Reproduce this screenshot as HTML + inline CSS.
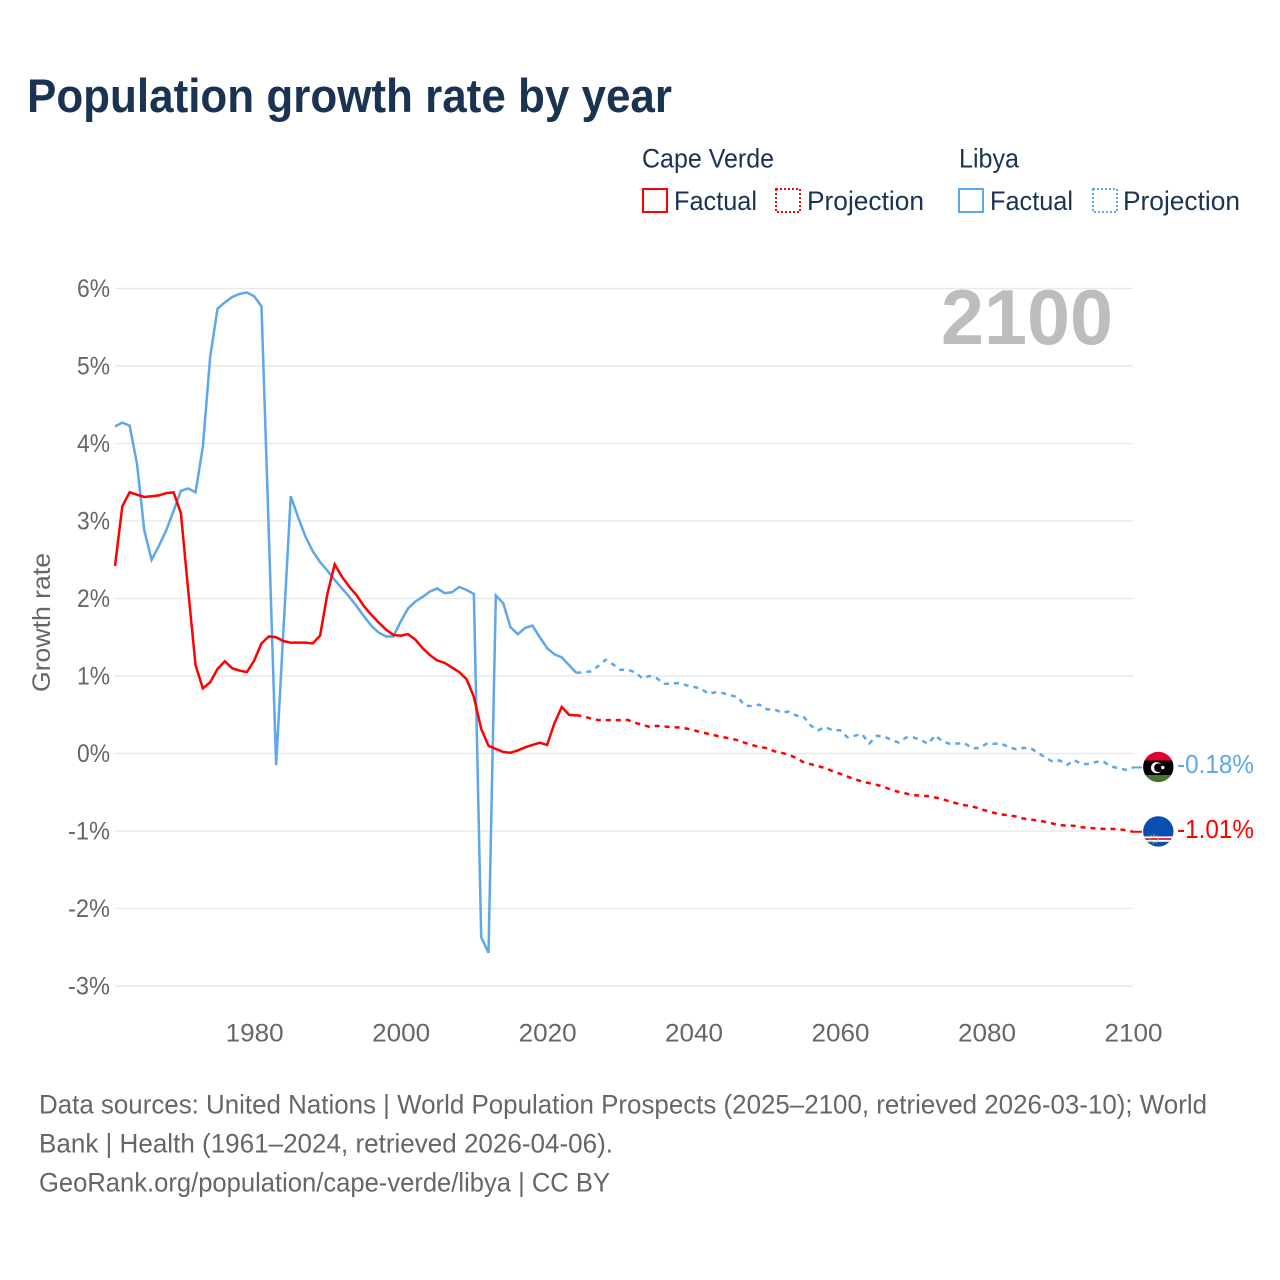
<!DOCTYPE html>
<html lang="en">
<head>
<meta charset="utf-8">
<title>Population growth rate by year</title>
<style>
html,body{margin:0;padding:0;background:#fff;}
svg{display:block;font-family:"Liberation Sans",sans-serif;}
</style>
</head>
<body>
<svg id="chart" xmlns="http://www.w3.org/2000/svg" width="1280" height="1280" viewBox="0 0 1280 1280">
  <rect x="0" y="0" width="1280" height="1280" fill="#ffffff"/>
  <text x="27" y="112" font-size="47" font-weight="700" fill="#1a3352" textLength="645" lengthAdjust="spacingAndGlyphs">Population growth rate by year</text>

  <g fill="#1a3352" font-size="26.5">
    <text x="642" y="167.5" textLength="132" lengthAdjust="spacingAndGlyphs">Cape Verde</text>
    <text x="959" y="167.5" textLength="60" lengthAdjust="spacingAndGlyphs">Libya</text>
    <rect x="643" y="189" width="24" height="23" fill="none" stroke="#ff0000" stroke-width="2"/>
    <text x="674" y="210" textLength="83" lengthAdjust="spacingAndGlyphs">Factual</text>
    <rect x="776" y="189" width="24" height="23" fill="none" stroke="#ff0000" stroke-width="2" stroke-dasharray="2,2"/>
    <text x="807" y="210" textLength="117" lengthAdjust="spacingAndGlyphs">Projection</text>
    <rect x="959" y="189" width="24" height="23" fill="none" stroke="#5da7ec" stroke-width="2"/>
    <text x="990" y="210" textLength="83" lengthAdjust="spacingAndGlyphs">Factual</text>
    <rect x="1093" y="189" width="24" height="23" fill="none" stroke="#5da7ec" stroke-width="2" stroke-dasharray="2,2"/>
    <text x="1123" y="210" textLength="117" lengthAdjust="spacingAndGlyphs">Projection</text>
  </g>

  <g id="grid"></g>
  <g id="y-ticks"></g>
  <g id="x-ticks"></g>

  <text x="941" y="344" font-size="78" font-weight="700" fill="#bdbdbd" textLength="172" lengthAdjust="spacingAndGlyphs">2100</text>
  <text transform="translate(50,692) rotate(-90)" font-size="25" fill="#666666" textLength="139" lengthAdjust="spacingAndGlyphs">Growth rate</text>

  <g id="series"></g>

  <g>
    <defs>
      <clipPath id="clip-libya"><circle cx="1158.3" cy="767" r="15.2"/></clipPath>
      <clipPath id="clip-cv"><circle cx="1158.3" cy="831.4" r="15.2"/></clipPath>
    </defs>
    <g clip-path="url(#clip-libya)">
      <rect x="1143" y="751" width="31" height="10" fill="#e0002d"/>
      <rect x="1143" y="760.5" width="31" height="14.5" fill="#000000"/>
      <rect x="1143" y="775" width="31" height="8" fill="#4b7430"/>
      <circle cx="1156.6" cy="767.7" r="5.6" fill="#ffffff"/>
      <circle cx="1158.4" cy="767.7" r="4.3" fill="#000000"/>
      <circle cx="1162.8" cy="767.5" r="1.7" fill="#ffffff"/>
    </g>
  </g>
  <g>
    <g clip-path="url(#clip-cv)">
      <rect x="1143" y="816" width="31" height="31" fill="#0a4fb0"/>
      <rect x="1143" y="836.4" width="31" height="5.4" fill="#ffffff"/>
      <rect x="1143" y="838" width="31" height="2" fill="#e8323c"/>
      <circle cx="1154" cy="839" r="4" fill="none" stroke="#a9a37a" stroke-width="1.4" stroke-dasharray="1.5,1.5"/>
    </g>
  </g>

  <text id="end-label-libya" x="1177" y="773" font-size="26" fill="#5da7ec" textLength="77" lengthAdjust="spacingAndGlyphs">-0.18%</text>
  <text id="end-label-cv" x="1177" y="838" font-size="26" fill="#ff0000" textLength="77" lengthAdjust="spacingAndGlyphs">-1.01%</text>

  <g font-size="26.5" fill="#666666">
    <text x="39" y="1113.5" textLength="1168" lengthAdjust="spacingAndGlyphs">Data sources: United Nations | World Population Prospects (2025–2100, retrieved 2026-03-10); World</text>
    <text x="39" y="1152.5" textLength="574" lengthAdjust="spacingAndGlyphs">Bank | Health (1961–2024, retrieved 2026-04-06).</text>
    <text x="39" y="1191.5" textLength="571" lengthAdjust="spacingAndGlyphs">GeoRank.org/population/cape-verde/libya | CC BY</text>
  </g>
</svg>
<script>
const startYear = 1961;
const lastFactualYear = 2024;
const endYear = 2100;
const yTicks = [6, 5, 4, 3, 2, 1, 0, -1, -2, -3];
const xTicks = [1980, 2000, 2020, 2040, 2060, 2080, 2100];

const libyaFactual = [
  4.22,4.27,4.23,3.74,2.88,2.50,2.68,2.88,3.13,3.39,
  3.42,3.37,3.96,5.12,5.74,5.82,5.89,5.93,5.95,5.90,
  5.77,2.85,-0.15,1.60,3.32,3.05,2.80,2.61,2.47,2.36,
  2.24,2.13,2.02,1.90,1.77,1.65,1.56,1.51,1.51,1.70,
  1.87,1.96,2.02,2.09,2.13,2.07,2.08,2.15,2.11,2.06,
  -2.37,-2.57,2.04,1.94,1.63,1.54,1.62,1.65,1.50,1.36,
  1.28,1.24,1.14,1.04
];
const capeVerdeFactual = [
  2.42,3.19,3.37,3.34,3.31,3.32,3.33,3.36,3.37,3.10,
  2.10,1.14,0.84,0.92,1.09,1.19,1.10,1.07,1.05,1.20,
  1.42,1.51,1.50,1.45,1.43,1.43,1.43,1.42,1.52,2.06,
  2.44,2.28,2.15,2.04,1.90,1.79,1.69,1.60,1.53,1.52,
  1.54,1.47,1.36,1.27,1.20,1.17,1.11,1.05,0.96,0.73,
  0.32,0.10,0.06,0.02,0.01,0.04,0.08,0.11,0.14,0.11,
  0.39,0.60,0.50,0.49
];
const libyaProjection = [
  1.04,1.05,1.06,1.13,1.21,1.15,1.08,1.08,1.05,0.97,
  1.00,0.97,0.90,0.90,0.91,0.88,0.86,0.84,0.77,0.79,
  0.78,0.75,0.73,0.62,0.61,0.63,0.57,0.57,0.53,0.54,
  0.49,0.48,0.36,0.30,0.34,0.30,0.30,0.21,0.23,0.25,
  0.13,0.228,0.219,0.176,0.142,0.206,0.206,0.176,0.125,0.232,
  0.155,0.125,0.129,0.133,0.069,0.069,0.125,0.125,0.129,0.082,
  0.056,0.073,0.069,0.013,-0.052,-0.103,-0.09,-0.146,-0.086,-0.138,
  -0.133,-0.107,-0.107,-0.168,-0.189,-0.21,-0.18
];
const capeVerdeProjection = [
  0.495,0.477,0.452,0.43,0.43,0.43,0.43,0.434,0.396,0.37,
  0.344,0.357,0.348,0.34,0.335,0.323,0.301,0.275,0.254,0.232,
  0.211,0.194,0.172,0.138,0.108,0.086,0.069,0.03,0.009,-0.017,
  -0.056,-0.112,-0.138,-0.163,-0.189,-0.228,-0.262,-0.297,-0.331,-0.361,
  -0.383,-0.404,-0.43,-0.469,-0.495,-0.516,-0.538,-0.542,-0.551,-0.568,
  -0.589,-0.619,-0.645,-0.667,-0.68,-0.71,-0.74,-0.766,-0.787,-0.796,
  -0.813,-0.839,-0.852,-0.865,-0.882,-0.903,-0.925,-0.929,-0.933,-0.951,
  -0.959,-0.968,-0.972,-0.972,-0.976,-0.989,-1.01
];

const NS = 'http://www.w3.org/2000/svg';
const plotLeft = 115, plotRight = 1133, zeroY = 753.5, pxPerPercent = 77.5;
function xScale(year) {
  return plotLeft + (year - startYear) * (plotRight - plotLeft) / (endYear - startYear);
}
function yScale(value) {
  return zeroY - value * pxPerPercent;
}
function pointsFor(values, firstYear) {
  return values.map(function (v, i) {
    return xScale(firstYear + i).toFixed(2) + ',' + yScale(v).toFixed(2);
  }).join(' ');
}
function addLine(parent, name, values, firstYear, color, dash) {
  const el = document.createElementNS(NS, 'polyline');
  
  
  el.setAttribute('points', pointsFor(values, firstYear));
  el.setAttribute('fill', 'none');
  el.setAttribute('stroke', color);
  el.setAttribute('stroke-width', '2.5');
  el.setAttribute('stroke-linejoin', 'miter');
  if (dash) el.setAttribute('stroke-dasharray', dash);
  parent.appendChild(el);
}
function addConnector(parent, name, value, color) {
  const el = document.createElementNS(NS, 'line');
  
  
  el.setAttribute('x1', xScale(endYear));
  el.setAttribute('x2', xScale(endYear) + 9);
  el.setAttribute('y1', yScale(value));
  el.setAttribute('y2', yScale(value));
  el.setAttribute('stroke', color);
  el.setAttribute('stroke-width', '2');
  parent.appendChild(el);
}

const gridGroup = document.getElementById('grid');
const yTickGroup = document.getElementById('y-ticks');
yTicks.forEach(function (t) {
  const line = document.createElementNS(NS, 'line');
  
  
  line.setAttribute('x1', plotLeft);
  line.setAttribute('x2', plotRight);
  line.setAttribute('y1', yScale(t));
  line.setAttribute('y2', yScale(t));
  line.setAttribute('stroke', '#e9e9e9');
  line.setAttribute('stroke-width', '1.6');
  gridGroup.appendChild(line);

  const label = document.createElementNS(NS, 'text');
  
  
  label.setAttribute('x', '110');
  label.setAttribute('y', yScale(t) + 8.5);
  label.setAttribute('text-anchor', 'end');
  label.setAttribute('font-size', '25');
  label.setAttribute('fill', '#666666');
  label.setAttribute('textLength', t < 0 ? '42' : '33');
  label.setAttribute('lengthAdjust', 'spacingAndGlyphs');
  label.textContent = t + '%';
  yTickGroup.appendChild(label);
});

const xTickGroup = document.getElementById('x-ticks');
xTicks.forEach(function (t) {
  const label = document.createElementNS(NS, 'text');
  
  
  label.setAttribute('x', xScale(t) + 0.5);
  label.setAttribute('y', '1041.5');
  label.setAttribute('text-anchor', 'middle');
  label.setAttribute('font-size', '25');
  label.setAttribute('fill', '#666666');
  label.setAttribute('textLength', '58');
  label.setAttribute('lengthAdjust', 'spacingAndGlyphs');
  label.textContent = String(t);
  xTickGroup.appendChild(label);
});

const seriesGroup = document.getElementById('series');
addLine(seriesGroup, 'line-libya-factual', libyaFactual, startYear, '#5da7ec', null);
addLine(seriesGroup, 'line-libya-projection', libyaProjection, lastFactualYear, '#5da7ec', '5,5');
addLine(seriesGroup, 'line-cape-verde-factual', capeVerdeFactual, startYear, '#ff0000', null);
addLine(seriesGroup, 'line-cape-verde-projection', capeVerdeProjection, lastFactualYear, '#ff0000', '5,5');
addConnector(seriesGroup, 'connector-libya', libyaProjection[libyaProjection.length - 1], '#5da7ec');
addConnector(seriesGroup, 'connector-cape-verde', capeVerdeProjection[capeVerdeProjection.length - 1], '#ff0000');
document.getElementById('end-label-libya').textContent = libyaProjection[libyaProjection.length - 1].toFixed(2) + '%';
document.getElementById('end-label-cv').textContent = capeVerdeProjection[capeVerdeProjection.length - 1].toFixed(2) + '%';
</script>
</body>
</html>
